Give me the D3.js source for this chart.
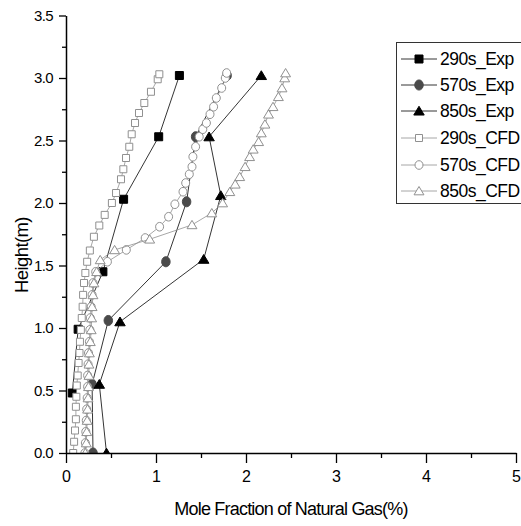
<!DOCTYPE html>
<html>
<head>
<meta charset="utf-8">
<script src="https://cdn.jsdelivr.net/npm/d3@7"></script>
<style>
  body { margin: 0; background: #fff; }
  svg { display: block; }
</style>
</head>
<body>
<svg id="chart" width="521" height="526"></svg>
<script>
// Measured profiles: [mole fraction %, height m]
const exp290 = [[0.07,0.48],[0.135,0.99],[0.41,1.45],[0.64,2.03],[1.03,2.53],[1.26,3.02]];
const exp570 = [[0.30,0.0],[0.29,0.55],[0.47,1.06],[1.11,1.53],[1.34,2.01],[1.44,2.53],[1.79,3.02]];
const exp850 = [[0.45,0.0],[0.37,0.55],[0.60,1.05],[1.53,1.55],[1.72,2.06],[1.59,2.53],[2.17,3.02]];

// Simulated profiles: [mole fraction %, height m]
const cfd290 = [[0.08,0.0],[0.09,0.09],[0.10,0.18],[0.11,0.27],[0.11,0.37],[0.115,0.45],[0.12,0.54],
  [0.13,0.62],[0.14,0.72],[0.15,0.80],[0.155,0.89],[0.165,0.985],[0.175,1.08],[0.185,1.17],[0.19,1.265],
  [0.20,1.36],[0.215,1.44],[0.235,1.53],[0.265,1.62],[0.31,1.73],[0.37,1.82],[0.43,1.905],[0.51,2.0],
  [0.556,2.08],[0.611,2.19],[0.637,2.27],[0.667,2.36],[0.703,2.45],[0.73,2.55],[0.767,2.64],[0.811,2.72],
  [0.87,2.80],[0.944,2.89],[1.019,2.99],[1.037,3.03]];
const cfd570 = [[0.21,0.0],[0.215,0.08],[0.22,0.17],[0.225,0.26],[0.23,0.35],[0.235,0.44],[0.24,0.53],
  [0.24,0.62],[0.245,0.71],[0.25,0.80],[0.26,0.89],[0.265,0.985],[0.27,1.08],[0.28,1.17],[0.29,1.265],
  [0.30,1.36],[0.33,1.45],[0.46,1.53],[0.67,1.625],[0.88,1.72],[1.04,1.81],[1.14,1.89],[1.21,1.99],
  [1.30,2.09],[1.33,2.16],[1.37,2.23],[1.40,2.29],[1.41,2.37],[1.44,2.45],[1.48,2.53],[1.52,2.59],
  [1.56,2.64],[1.60,2.71],[1.64,2.77],[1.67,2.84],[1.73,2.92],[1.77,3.0],[1.785,3.04]];
const cfd850 = [[0.215,0.0],[0.225,0.08],[0.23,0.17],[0.235,0.26],[0.24,0.35],[0.245,0.44],[0.25,0.53],
  [0.255,0.62],[0.255,0.71],[0.26,0.80],[0.27,0.89],[0.28,0.985],[0.285,1.08],[0.29,1.17],[0.30,1.265],
  [0.31,1.36],[0.34,1.45],[0.38,1.545],[0.54,1.625],[0.93,1.71],[1.40,1.825],[1.62,1.92],[1.74,2.0],
  [1.82,2.09],[1.88,2.15],[1.93,2.21],[1.99,2.29],[2.04,2.37],[2.08,2.43],[2.14,2.49],[2.17,2.56],
  [2.21,2.63],[2.25,2.71],[2.30,2.77],[2.36,2.85],[2.40,2.92],[2.43,3.0],[2.44,3.04]];

const xMajor = [0, 1, 2, 3, 4, 5];
const xMinor = [0.5, 1.5, 2.5, 3.5, 4.5];
const yMajor = [0, 0.5, 1, 1.5, 2, 2.5, 3, 3.5];
const yMinor = [0.25, 0.75, 1.25, 1.75, 2.25, 2.75, 3.25];
const seriesNames = ["290s_Exp", "570s_Exp", "850s_Exp", "290s_CFD", "570s_CFD", "850s_CFD"];

const svg = d3.select("#chart");
const FONT = "'Liberation Sans', Arial, sans-serif";

const x = d3.scaleLinear().domain([0, 5]).range([66, 516]);
const y = d3.scaleLinear().domain([0, 3.5]).range([453, 15.5]);

// marker shapes
function markerPath(shape, s) {
  const h = s / 2;
  if (shape === "square") return `M${-h},${-h}H${h}V${h}H${-h}Z`;
  if (shape === "triangle") return `M0,${-h}L${h * 1.1},${h * 0.85}L${-h * 1.1},${h * 0.85}Z`;
  return null;
}

const styles = [
  { data: exp290, shape: "square", size: 8, fill: "#000", stroke: "#000", line: "#000" },
  { data: exp570, shape: "circle", size: 8.5, fill: "#4a4a4a", stroke: "#4a4a4a", line: "#000" },
  { data: exp850, shape: "triangle", size: 9.5, fill: "#000", stroke: "#000", line: "#000" },
  { data: cfd290, shape: "square", size: 7, fill: "#fff", stroke: "#909090", line: "#909090" },
  { data: cfd570, shape: "circle", size: 8, fill: "#fff", stroke: "#909090", line: "#909090" },
  { data: cfd850, shape: "triangle", size: 9, fill: "#fff", stroke: "#909090", line: "#909090" }
];

svg.append("defs").append("clipPath").attr("id", "plotClip")
  .append("rect").attr("x", 66).attr("y", 10).attr("width", 455).attr("height", 443);

const plot = svg.append("g").attr("clip-path", "url(#plotClip)");
const line = d3.line().x(d => x(d[0])).y(d => y(d[1]));

function drawMarker(g, st, cx, cy) {
  if (st.shape === "circle") {
    g.append("ellipse").attr("cx", cx).attr("cy", cy)
      .attr("rx", st.size / 2).attr("ry", st.size / 2 + (st.fill === "#fff" ? 0.3 : 0.8))
      .attr("fill", st.fill).attr("stroke", st.stroke).attr("stroke-width", 1);
  } else {
    g.append("path").attr("d", markerPath(st.shape, st.size))
      .attr("transform", `translate(${cx},${cy})`)
      .attr("fill", st.fill).attr("stroke", st.stroke).attr("stroke-width", 1);
  }
}

styles.forEach(st => {
  const g = plot.append("g");
  g.append("path").datum(st.data).attr("d", line)
    .attr("fill", "none").attr("stroke", st.line).attr("stroke-width", 0.8);
  st.data.forEach(d => drawMarker(g, st, x(d[0]), y(d[1])));
});

// axes
function styleAxis(g) {
  g.selectAll("path.domain").attr("stroke", "#000").attr("stroke-width", 1.5);
  g.selectAll(".tick line").attr("stroke", "#000").attr("stroke-width", 1.3);
}

const gx = svg.append("g").attr("transform", "translate(0,453)")
  .call(d3.axisBottom(x).tickValues(xMajor).tickFormat(d3.format("d")).tickSize(10).tickSizeOuter(0).tickPadding(8));
styleAxis(gx);
gx.selectAll("text").attr("font-family", FONT).attr("font-size", 16).attr("fill", "#000");
const gxm = svg.append("g").attr("transform", "translate(0,453)")
  .call(d3.axisBottom(x).tickValues(xMinor).tickFormat("").tickSize(5).tickSizeOuter(0));
styleAxis(gxm);
gxm.select("path.domain").remove();

const gy = svg.append("g").attr("transform", "translate(66,0)")
  .call(d3.axisLeft(y).tickValues(yMajor).tickFormat(d3.format(".1f")).tickSize(7).tickSizeOuter(0).tickPadding(6));
styleAxis(gy);
gy.selectAll("text").attr("font-family", FONT).attr("font-size", 15)
  .attr("letter-spacing", -0.6).attr("fill", "#000");
const gym = svg.append("g").attr("transform", "translate(66,0)")
  .call(d3.axisLeft(y).tickValues(yMinor).tickFormat("").tickSize(4).tickSizeOuter(0));
styleAxis(gym);
gym.select("path.domain").remove();

// axis titles
svg.append("text").attr("x", 291).attr("y", 515).attr("text-anchor", "middle")
  .attr("font-family", FONT).attr("font-size", 18).attr("letter-spacing", -0.8)
  .text("Mole Fraction of Natural Gas(%)");
svg.append("text").attr("transform", "translate(28,255) rotate(-90)").attr("text-anchor", "middle")
  .attr("font-family", FONT).attr("font-size", 18.5).attr("letter-spacing", -0.6)
  .text("Height(m)");

// legend
const lg = svg.append("g");
lg.append("rect").attr("x", 396.5).attr("y", 42.5).attr("width", 140).attr("height", 161)
  .attr("fill", "#fff").attr("stroke", "#333").attr("stroke-width", 1);
const legendY = [59, 85, 111, 138, 165, 191];
styles.forEach((st, i) => {
  const cy = legendY[i];
  lg.append("line").attr("x1", 401).attr("x2", 437).attr("y1", cy).attr("y2", cy)
    .attr("stroke", st.line).attr("stroke-width", 0.8);
  drawMarker(lg, st, 419, cy);
  lg.append("text").attr("x", 440).attr("y", cy).attr("dy", "0.36em")
    .attr("font-family", FONT).attr("font-size", 17.5).attr("letter-spacing", -0.5)
    .text(seriesNames[i]);
});
</script>
</body>
</html>
